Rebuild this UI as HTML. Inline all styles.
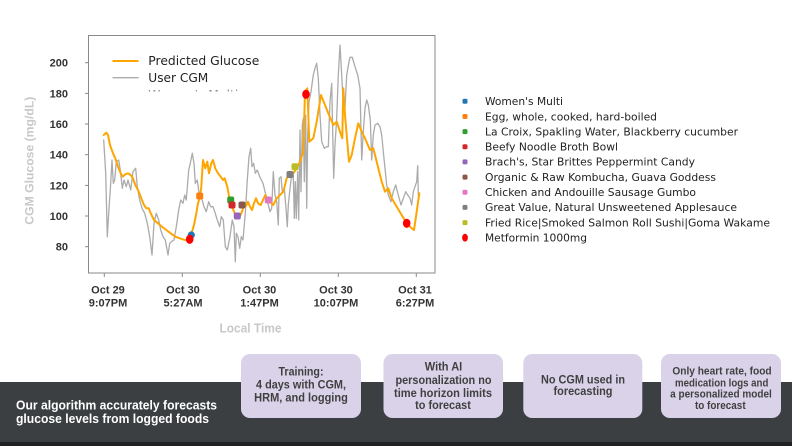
<!DOCTYPE html>
<html><head><meta charset="utf-8"><style>
html,body{margin:0;padding:0;background:#fff;}
svg{display:block;}
</style></head><body>
<svg width="792" height="446" viewBox="0 0 792 446" xmlns="http://www.w3.org/2000/svg">
<rect x="0" y="0" width="792" height="446" fill="#ffffff"/>
<defs><clipPath id="plotclip"><rect x="88" y="35" width="347" height="238"/></clipPath>
<clipPath id="legclip"><rect x="140" y="80" width="150" height="11.5"/></clipPath></defs>

<!-- frame -->
<rect x="88.5" y="35.5" width="346.5" height="237.5" fill="none" stroke="#8a8a8a" stroke-width="1"/>
<!-- ticks -->
<g stroke="#8a8a8a" stroke-width="1">
<line x1="104.3" y1="273" x2="104.3" y2="277"/>
<line x1="182.3" y1="273" x2="182.3" y2="277"/>
<line x1="260.3" y1="273" x2="260.3" y2="277"/>
<line x1="338.3" y1="273" x2="338.3" y2="277"/>
<line x1="416.3" y1="273" x2="416.3" y2="277"/>
<line x1="85" y1="62.7" x2="88" y2="62.7"/>
<line x1="85" y1="93.4" x2="88" y2="93.4"/>
<line x1="85" y1="124" x2="88" y2="124"/>
<line x1="85" y1="154.7" x2="88" y2="154.7"/>
<line x1="85" y1="185.4" x2="88" y2="185.4"/>
<line x1="85" y1="216" x2="88" y2="216"/>
<line x1="85" y1="246.7" x2="88" y2="246.7"/>
</g>

<!-- y tick labels -->
<g font-family="Liberation Sans, Arial, sans-serif" font-weight="bold" font-size="11" fill="#333" text-anchor="end">
<text x="68" y="66.7">200</text>
<text x="68" y="97.4">180</text>
<text x="68" y="128">160</text>
<text x="68" y="158.7">140</text>
<text x="68" y="189.4">120</text>
<text x="68" y="220">100</text>
<text x="68" y="250.7">80</text>
</g>
<!-- x tick labels -->
<g font-family="Liberation Sans, Arial, sans-serif" font-weight="bold" font-size="11" fill="#333" text-anchor="middle">
<text x="108" y="293.3">Oct 29</text><text x="108" y="306.3">9:07PM</text>
<text x="183" y="293.3">Oct 30</text><text x="183" y="306.3">5:27AM</text>
<text x="259.5" y="293.3">Oct 30</text><text x="259.5" y="306.3">1:47PM</text>
<text x="336" y="293.3">Oct 30</text><text x="336" y="306.3">10:07PM</text>
<text x="415" y="293.3">Oct 31</text><text x="415" y="306.3">6:27PM</text>
</g>
<text x="250.5" y="332.5" font-family="Liberation Sans, Arial, sans-serif" font-weight="bold" font-size="12.5" fill="#c8c8c8" text-anchor="middle" textLength="62" lengthAdjust="spacingAndGlyphs">Local Time</text>
<text transform="translate(33.5,160.7) rotate(-90)" x="0" y="0" font-family="Liberation Sans, Arial, sans-serif" font-weight="bold" font-size="12.3" fill="#c8c8c8" text-anchor="middle" textLength="128" lengthAdjust="spacingAndGlyphs">CGM Glucose (mg/dL)</text>

<!-- series -->
<g clip-path="url(#plotclip)" fill="none" stroke-linejoin="round" stroke-linecap="round">
<polyline stroke="#ababab" stroke-width="1.3" points="103.7,140 105.7,173.3 107.3,236.7 108.7,213.3 110.7,183.3 112,160 113.3,183.3 114.7,180 116.3,161.7 118.7,160 120.3,170 122.3,188.3 124,180 126.3,186.7 128,180 130.7,190 133,171.7 135.7,168.3 137.3,186.7 139.7,200 142,208.3 144.7,213.3 147.3,223.3 149.7,236.7 152,255 154,223.3 156.3,213.3 158.7,220 160.7,230 163,236.7 165.3,240 168,255 169.7,243.3 171.3,241.7 174,240 176.3,226.7 178.7,210 180.7,200 183,203.3 184.7,195 186.3,200 188.7,170 190.3,163.3 192.3,153.3 194,163.3 195.3,183.3 197.3,180 199,193.3 201.3,196.7 204,206.7 206.3,211.7 208.7,201.7 210.7,206.7 213,206.7 214.7,211.7 217.3,220 219.7,226.7 221.3,216.7 223.3,220 225.3,246.7 227.3,250 229.7,238.3 232.3,220 234,226.7 235.3,261.7 236.3,233.3 238,236.7 239.7,248.3 241.3,236.7 243,240 245.3,213.3 247.3,180 249,156.7 250.7,148.3 252,166.7 253.7,163.3 255.3,173.3 257.3,170 259.7,176.7 263,183.3 266.7,198.3 270,211.7 271.7,208.3 273.3,171.7 275,195 276.7,201.7 278.3,225 279.3,178.3 281,176.7 282.3,191.7 284.3,188.3 286,208.3 287.3,226.7 288.3,205 290,188.3 291.7,175 293.3,175 294.3,218.3 295.3,181.7 296.3,218.3 297.7,171.7 298.7,220 300,130 301,191.7 302.3,125 303.3,118.3 304.3,181.7 305.7,115 306.7,208.3 307.7,135 309,101.7 311,91.7 313.3,75 315,68.3 316.7,63.3 318.3,78.3 320,115 321.7,141.7 324.3,148.3 326.7,146.7 328.3,146.7 330,101.7 331.7,83.3 332.7,131.7 333.7,178.3 335,145 336.7,118.3 338.3,75 340,45 341.7,75 343.3,105 345,108.3 346.7,75 349,61.7 350,57.3 352.3,57.3 355,66.7 357.7,75 360,88.3 361.7,160 363.3,131.7 365,108.3 366.7,100 368.3,105 370.3,120 371.7,160 373.3,135 375,125 377.7,123.3 380,126.7 381.7,135 383.3,151.7 385,168.3 386.7,185 388.3,195 391,201.7 393.3,191.7 395.7,185 398.3,195 401,205 403.3,198.3 405.7,191.7 407.7,195 410,198.3 411.7,205 413.3,191.7 415,186.7 416.7,181.7 417.7,165.7 418.3,195 419.3,193.3"/>
<polyline stroke="#ffa500" stroke-width="2" points="103.7,135 106.3,132.7 108,135 110,145 113,153.3 115.3,158.3 118,166.7 120.7,173.3 122.7,176.7 125.3,174.3 128,173.3 130.7,175 133,178.3 135.3,185 138,190 140.7,196.7 144,205 146.3,208.3 148.7,208.3 150.7,213.3 154,220 158,223.3 162,226.7 166.3,230 170.7,233.3 175.3,236.7 180.7,238.7 187.3,240.7 189.7,236.7 192,231.7 194,225 196.3,213.3 198,203.3 200,196.7 201.3,186.7 203,160 205.3,168.3 207.3,161.7 209,173.3 211.3,163.3 213,160 215.3,168.3 218,173.3 220.7,176.7 223,180 224.7,178.3 227.3,186.7 229.7,200 232,206.7 234.7,213.3 237.3,216.7 239.7,216.7 242,211.7 244,205 246,206 248,201.7 250,206.7 252,210 254,203.3 256,198.3 258,203.3 260.7,205 263,200 265.3,195 268.3,200 273.3,205 276.7,198.3 280,195 283.3,191.7 286.7,178.3 290,171.7 293.3,173.3 296.7,168.3 300,161.7 303.3,151.7 305,91.7 307.3,88.3 309.3,141.7 313.3,138.3 316.7,121.7 321,95 325,105 328.3,113.3 333.3,125 336.7,121.7 340,131.7 342.3,138.3 343.3,88.3 345,115 349,161.7 351.7,155 355,138.3 358.3,123.3 361.7,131.7 365,138.3 370,150 373.3,148.3 376.7,161.7 381.7,181.7 385,191.7 388.3,188.3 391.7,198.3 396.7,206.7 401.7,215 406.7,223.3 411.7,228.3 414,230 416.7,211.7 419.3,193.3"/>
</g>
<!-- markers -->
<g>
<circle cx="191.3" cy="235" r="3.6" fill="#1f77b4"/>
<ellipse cx="189.7" cy="239.3" rx="3.8" ry="4.6" fill="#ff0000"/>
<rect x="196.2" y="192.5" width="7" height="7" rx="2" fill="#ff7f0e"/>
<rect x="227.2" y="196.5" width="7" height="7" rx="2" fill="#2ca02c"/>
<rect x="228.5" y="201.5" width="7" height="7" rx="2" fill="#d62728"/>
<rect x="233.8" y="212.5" width="7" height="7" rx="2" fill="#9467bd"/>
<rect x="238.5" y="201.5" width="7" height="7" rx="2" fill="#8c564b"/>
<rect x="264.8" y="196.5" width="7" height="7" rx="2" fill="#e377c2"/>
<rect x="286.5" y="171" width="7" height="7" rx="2" fill="#7f7f7f"/>
<rect x="291.5" y="163.2" width="7" height="7" rx="2" fill="#bcbd22"/>
<ellipse cx="306" cy="94.3" rx="3.8" ry="4.6" fill="#ff0000"/>
<ellipse cx="406.7" cy="223.3" rx="3.8" ry="4.6" fill="#ff0000"/>
</g>

<!-- in-plot legend -->
<line x1="112.5" y1="61" x2="138.5" y2="61" stroke="#ffa500" stroke-width="2"/>
<line x1="112.5" y1="77.7" x2="138.5" y2="77.7" stroke="#ababab" stroke-width="1.3"/>
<g font-family="DejaVu Sans, Liberation Sans, sans-serif" font-size="12.3" fill="#222">
<text x="148.3" y="65.2" textLength="111" lengthAdjust="spacingAndGlyphs">Predicted Glucose</text>
<text x="148.3" y="82" textLength="60" lengthAdjust="spacingAndGlyphs">User CGM</text>
<text x="148.3" y="99" textLength="90" lengthAdjust="spacingAndGlyphs" clip-path="url(#legclip)" fill="#888">Women's Multi</text>
</g>

<!-- right legend -->
<g>
<rect x="462.5" y="98.8" width="5" height="5" rx="1.5" fill="#1f77b4"/>
<rect x="462.5" y="114" width="5" height="5" rx="1.5" fill="#ff7f0e"/>
<rect x="462.5" y="129.1" width="5" height="5" rx="1.5" fill="#2ca02c"/>
<rect x="462.5" y="144.3" width="5" height="5" rx="1.5" fill="#d62728"/>
<rect x="462.5" y="159.4" width="5" height="5" rx="1.5" fill="#9467bd"/>
<rect x="462.5" y="174.6" width="5" height="5" rx="1.5" fill="#8c564b"/>
<rect x="462.5" y="189.8" width="5" height="5" rx="1.5" fill="#e377c2"/>
<rect x="462.5" y="204.9" width="5" height="5" rx="1.5" fill="#7f7f7f"/>
<rect x="462.5" y="220.1" width="5" height="5" rx="1.5" fill="#bcbd22"/>
<ellipse cx="465" cy="237.7" rx="2.9" ry="3.9" fill="#ff0000"/>
</g>
<g font-family="DejaVu Sans, Liberation Sans, sans-serif" font-size="10.5" fill="#222">
<text x="485" y="105.1" textLength="78" lengthAdjust="spacingAndGlyphs">Women's Multi</text>
<text x="485" y="120.3" textLength="172" lengthAdjust="spacingAndGlyphs">Egg, whole, cooked, hard-boiled</text>
<text x="485" y="135.4" textLength="253" lengthAdjust="spacingAndGlyphs">La Croix, Spakling Water, Blackberry cucumber</text>
<text x="485" y="150.6" textLength="133" lengthAdjust="spacingAndGlyphs">Beefy Noodle Broth Bowl</text>
<text x="485" y="165.7" textLength="210" lengthAdjust="spacingAndGlyphs">Brach's, Star Brittes Peppermint Candy</text>
<text x="485" y="180.9" textLength="231" lengthAdjust="spacingAndGlyphs">Organic &amp; Raw Kombucha, Guava Goddess</text>
<text x="485" y="196.1" textLength="211" lengthAdjust="spacingAndGlyphs">Chicken and Andouille Sausage Gumbo</text>
<text x="485" y="211.2" textLength="252" lengthAdjust="spacingAndGlyphs">Great Value, Natural Unsweetened Applesauce</text>
<text x="485" y="226.4" textLength="285" lengthAdjust="spacingAndGlyphs">Fried Rice|Smoked Salmon Roll Sushi|Goma Wakame</text>
<text x="485" y="241.5" textLength="102" lengthAdjust="spacingAndGlyphs">Metformin 1000mg</text>
</g>

<!-- bottom band -->
<rect x="0" y="382" width="792" height="60" fill="#3b3f42"/>
<rect x="0" y="442" width="792" height="4" fill="#1f2123"/>
<g font-family="Liberation Sans, Arial, sans-serif" font-weight="bold" fill="#ffffff" font-size="12.5">
<text x="16" y="409.5" textLength="201" lengthAdjust="spacingAndGlyphs">Our algorithm accurately forecasts</text>
<text x="16" y="423" textLength="193" lengthAdjust="spacingAndGlyphs">glucose levels from logged foods</text>
</g>
<g fill="#d9d2e9">
<rect x="241" y="354" width="120" height="64" rx="9"/>
<rect x="383.5" y="354" width="119.5" height="64" rx="9"/>
<rect x="523.3" y="354" width="119" height="64" rx="9"/>
<rect x="661" y="354" width="120" height="64" rx="9"/>
</g>
<g font-family="Liberation Sans, Arial, sans-serif" font-weight="bold" fill="#404040" text-anchor="middle" font-size="12">
<text x="301" y="375.7" textLength="45" lengthAdjust="spacingAndGlyphs">Training:</text>
<text x="301" y="388.3" textLength="90" lengthAdjust="spacingAndGlyphs">4 days with CGM,</text>
<text x="301" y="401.3" textLength="93.7" lengthAdjust="spacingAndGlyphs">HRM, and logging</text>
<text x="443.5" y="370.3" textLength="37.5" lengthAdjust="spacingAndGlyphs">With AI</text>
<text x="443.5" y="384.2" textLength="96" lengthAdjust="spacingAndGlyphs">personalization no</text>
<text x="443" y="396.8" textLength="98" lengthAdjust="spacingAndGlyphs">time horizon limits</text>
<text x="443" y="409.2" textLength="55.7" lengthAdjust="spacingAndGlyphs">to forecast</text>
<text x="583" y="383.3" textLength="84" lengthAdjust="spacingAndGlyphs">No CGM used in</text>
<text x="583" y="395" textLength="59" lengthAdjust="spacingAndGlyphs">forecasting</text>
</g>
<g font-family="Liberation Sans, Arial, sans-serif" font-weight="bold" fill="#404040" text-anchor="middle" font-size="11">
<text x="722" y="374.7" textLength="99.3" lengthAdjust="spacingAndGlyphs">Only heart rate, food</text>
<text x="721.7" y="386.3" textLength="93.3" lengthAdjust="spacingAndGlyphs">medication logs and</text>
<text x="721" y="397.3" textLength="101.7" lengthAdjust="spacingAndGlyphs">a personalized model</text>
<text x="720.3" y="409" textLength="50.7" lengthAdjust="spacingAndGlyphs">to forecast</text>
</g>
</svg>
</body></html>
